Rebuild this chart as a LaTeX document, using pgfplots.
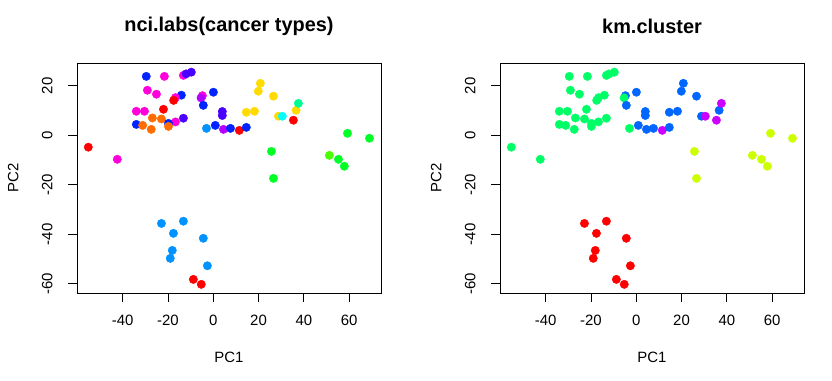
\documentclass[border=0pt]{standalone}
\usepackage{pgfplots}
\pgfplotsset{compat=1.18}
\usepackage{pgfplotstable}
\usepackage{fontspec}
\setmainfont{Liberation Sans}
\definecolor{cBR}{HTML}{FF0000}
\definecolor{cCN}{HTML}{FF6D00}
\definecolor{cCO}{HTML}{FFDB00}
\definecolor{cKA}{HTML}{B6FF00}
\definecolor{cKB}{HTML}{49FF00}
\definecolor{cLE}{HTML}{00FF24}
\definecolor{cMA}{HTML}{00FF92}
\definecolor{cMD}{HTML}{00FFFF}
\definecolor{cME}{HTML}{0092FF}
\definecolor{cNS}{HTML}{0024FF}
\definecolor{cOV}{HTML}{4900FF}
\definecolor{cPR}{HTML}{B600FF}
\definecolor{cRE}{HTML}{FF00DB}
\definecolor{cUN}{HTML}{FF006D}
\definecolor{kR}{HTML}{FF0000}
\definecolor{kY}{HTML}{CCFF00}
\definecolor{kG}{HTML}{00FF66}
\definecolor{kB}{HTML}{0066FF}
\definecolor{kP}{HTML}{CC00FF}

\pgfplotstableread{
x y t k
-29.6 23.8 NS G
-21.6 23.8 RE G
-13.2 24.2 RE G
-12.0 24.8 OV G
-9.7 25.5 OV G
-29.1 18.2 RE G
-25.1 16.6 RE G
-14.1 16.2 NS G
-16.7 15.2 RE G
-17.5 14.1 BR G
-34.0 9.7 RE G
-30.4 9.7 RE G
-22.0 10.5 BR G
-26.9 7.0 CN G
-22.9 6.6 CN G
-16.7 5.4 RE G
-13.2 6.9 OV G
-19.8 4.8 NS G
-19.8 3.6 CN G
-34.0 4.4 NS G
-31.2 4.0 CN G
-27.4 2.4 CN G
-55.2 -4.8 BR G
-42.4 -9.7 RE G
-4.8 16.0 RE B
-5.4 15.1 PR G
0.05 17.4 NS B
-4.4 12.1 NS B
4.0 9.6 OV B
4.0 8.0 OV B
20.8 21.0 CO B
19.9 17.8 CO B
26.6 15.8 CO B
14.6 9.3 CO B
18.2 9.7 CO B
28.8 7.7 CO B
30.5 7.7 MD P
36.6 10.1 CO B
37.6 12.9 MA P
35.4 6.1 BR P
-3.0 2.8 ME G
0.9 4.0 NS B
4.5 2.4 PR B
7.6 2.8 NS B
11.5 2.0 BR P
14.6 3.2 NS B
25.7 -6.5 LE Y
26.6 -17.4 LE Y
51.3 -8.1 KB Y
55.3 -9.7 LE Y
57.9 -12.5 LE Y
59.3 0.8 LE Y
69.0 -1.2 LE Y
-22.9 -35.6 ME R
-13.2 -34.7 ME R
-17.6 -39.6 ME R
-4.4 -41.6 ME R
-18.1 -46.5 ME R
-19.0 -49.7 ME R
-2.6 -52.7 ME R
-8.8 -58.2 BR R
-5.3 -60.2 BR R
}\pcadata

\pgfplotsset{mystyle/.style={
  scale only axis, width=304bp, height=230bp,
  xmin=-60.2, xmax=74.1, ymin=-63.7, ymax=29.2,
  xtick={-40,-20,0,20,40,60}, ytick={-60,-40,-20,0,20},
  tick align=outside, tick pos=left, major tick length=9bp,
  axis line style={line width=0.8bp},
  every tick/.style={black,line width=0.8bp},
  /pgf/number format/assume math mode=true,
  tick label style={font=\fontsize{15}{18}\selectfont},
  xticklabel style={anchor=north},
  xticklabel shift={10bp},
  yticklabel style={rotate=90, anchor=south, yshift=12bp},
  xlabel={PC1}, ylabel={PC2},
  every axis x label/.style={at={(axis description cs:0.5,-0.278)},anchor=center,font=\fontsize{15}{18}\selectfont},
  every axis y label/.style={at={(axis description cs:-0.21,0.5)},rotate=90,anchor=center,font=\fontsize{15}{18}\selectfont},
  title style={font=\bfseries\fontsize{20}{24}\selectfont, at={(axis description cs:0.5,1.135)}, anchor=center},
  clip=false,
}}

\begin{document}
\begin{tikzpicture}[x=1bp,y=1bp]
\useasboundingbox (0,0) rectangle (832,380);
\begin{axis}[mystyle, at={(77bp,87bp)}, anchor=south west, title={nci.labs(cancer types)}]
\addplot[scatter, only marks, mark=*, mark size=4.2bp, scatter src=explicit symbolic,
  scatter/classes={
    BR={fill=cBR,draw=cBR}, CN={fill=cCN,draw=cCN}, CO={fill=cCO,draw=cCO},
    KA={fill=cKA,draw=cKA}, KB={fill=cKB,draw=cKB}, LE={fill=cLE,draw=cLE},
    MA={fill=cMA,draw=cMA}, MD={fill=cMD,draw=cMD}, ME={fill=cME,draw=cME},
    NS={fill=cNS,draw=cNS}, OV={fill=cOV,draw=cOV}, PR={fill=cPR,draw=cPR},
    RE={fill=cRE,draw=cRE}, UN={fill=cUN,draw=cUN}}]
  table[x=x, y=y, meta=t] {\pcadata};
\end{axis}
\begin{axis}[mystyle, at={(500bp,87bp)}, anchor=south west, title={km.cluster}]
\addplot[scatter, only marks, mark=*, mark size=4.2bp, scatter src=explicit symbolic,
  scatter/classes={
    R={fill=kR,draw=kR}, Y={fill=kY,draw=kY}, G={fill=kG,draw=kG},
    B={fill=kB,draw=kB}, P={fill=kP,draw=kP}}]
  table[x=x, y=y, meta=k] {\pcadata};
\end{axis}
\end{tikzpicture}
\end{document}
